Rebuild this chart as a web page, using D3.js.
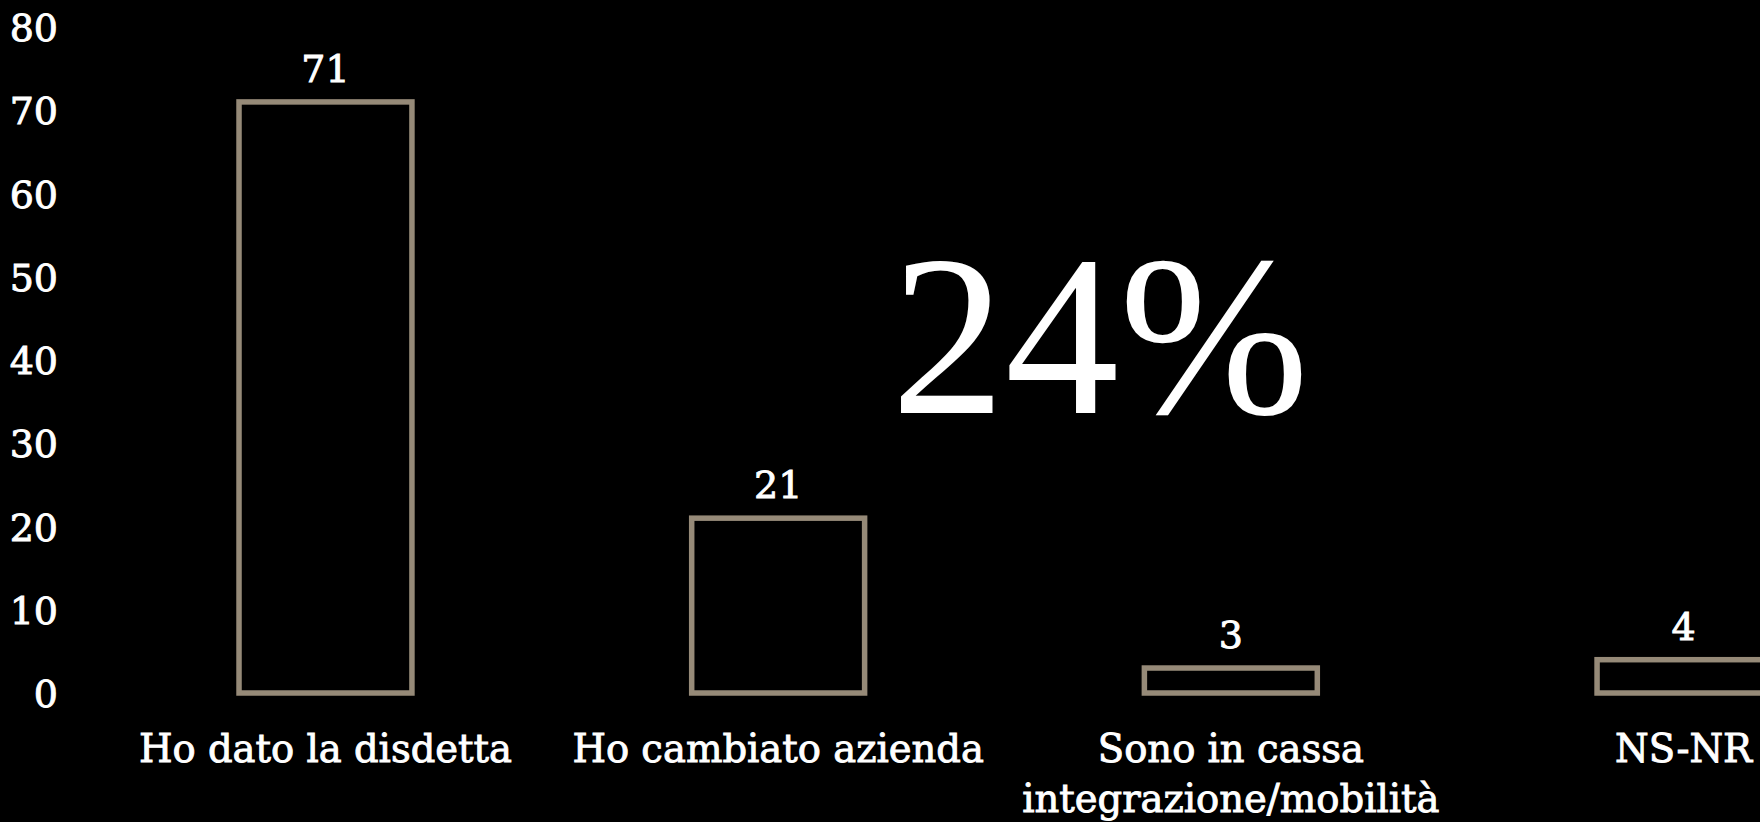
<!DOCTYPE html>
<html lang="en">
<head>
   <meta charset="utf-8">
   <title>Motivi</title>
   <script src="https://cdn.jsdelivr.net/npm/d3@7/dist/d3.min.js"></script>
   <style type="text/css">
      html, body { margin: 0; padding: 0; background: #000; overflow: hidden; }
      text { font-family: "DejaVu Serif", serif; fill: #fff; }
      .heavy { stroke: #fff; stroke-width: 0.9px; }
   </style>
</head>
<body>
   <script type="text/javascript">

      var w = 1760;
      var h = 822;

      // data
      var categories = ["Ho dato la disdetta", "Ho cambiato azienda", "Sono in cassa|integrazione/mobilità", "NS-NR"];
      var values = [71, 21, 3, 4];
      var yTicks = [0, 10, 20, 30, 40, 50, 60, 70, 80];
      var bigLabel = "24%";

      var xScale = d3.scaleBand()
                     .domain(categories)
                     .range([0, 2009])
                     .paddingInner(0.618)
                     .paddingOuter(0.528);

      var yScale = d3.scaleLinear()
                     .domain([0, 80])
                     .range([693, 27]);

      var svg = d3.select("body")
                  .append("svg")
                  .attr("width", w)
                  .attr("height", h);

      svg.append("rect")
         .attr("width", w)
         .attr("height", h)
         .attr("fill", "#000");

      // y axis: labels only
      var yAxis = d3.axisLeft(yScale)
                    .tickValues(yTicks)
                    .tickSize(0)
                    .tickPadding(0);

      var gy = svg.append("g")
                  .attr("transform", "translate(58,0)")
                  .call(yAxis);
      gy.select(".domain").remove();
      gy.selectAll("text")
        .attr("class", "heavy")
        .attr("fill", "#fff")
        .style("font-family", "DejaVu Serif, serif")
        .style("font-size", "38px")
        .attr("dy", "0.36em");

      // bars (outline only)
      svg.selectAll("rect.bar")
         .data(values)
         .enter()
         .append("rect")
         .attr("class", "bar")
         .attr("x", function(d, i) { return xScale(categories[i]); })
         .attr("y", function(d) { return yScale(d); })
         .attr("width", xScale.bandwidth())
         .attr("height", function(d) { return yScale(0) - yScale(d); })
         .attr("fill", "none")
         .attr("stroke", "#968a78")
         .attr("stroke-width", 5.5);

      // value labels
      svg.selectAll("text.val")
         .data(values)
         .enter()
         .append("text")
         .attr("class", "val heavy")
         .attr("x", function(d, i) { return xScale(categories[i]) + xScale.bandwidth() / 2; })
         .attr("y", function(d) { return yScale(d) - 20; })
         .attr("text-anchor", "middle")
         .style("font-size", "38px")
         .text(function(d) { return d; });

      // category labels
      var cat = svg.selectAll("text.cat")
         .data(categories)
         .enter()
         .append("text")
         .attr("class", "cat heavy")
         .attr("x", function(d) { return xScale(d) + xScale.bandwidth() / 2; })
         .attr("y", 762)
         .attr("text-anchor", "middle")
         .style("font-size", "38.5px");

      cat.each(function(d) {
         var lines = d.split("|");
         var t = d3.select(this);
         lines.forEach(function(l, k) {
            t.append("tspan")
             .attr("x", t.attr("x"))
             .attr("dy", k === 0 ? 0 : 50)
             .text(l);
         });
      });

      // big percentage
      svg.append("text")
         .attr("x", 1100)
         .attr("y", 413)
         .attr("text-anchor", "middle")
         .style("font-family", "Liberation Serif, serif")
         .style("font-size", "228px")
         .text(bigLabel);

   </script>
</body>
</html>
